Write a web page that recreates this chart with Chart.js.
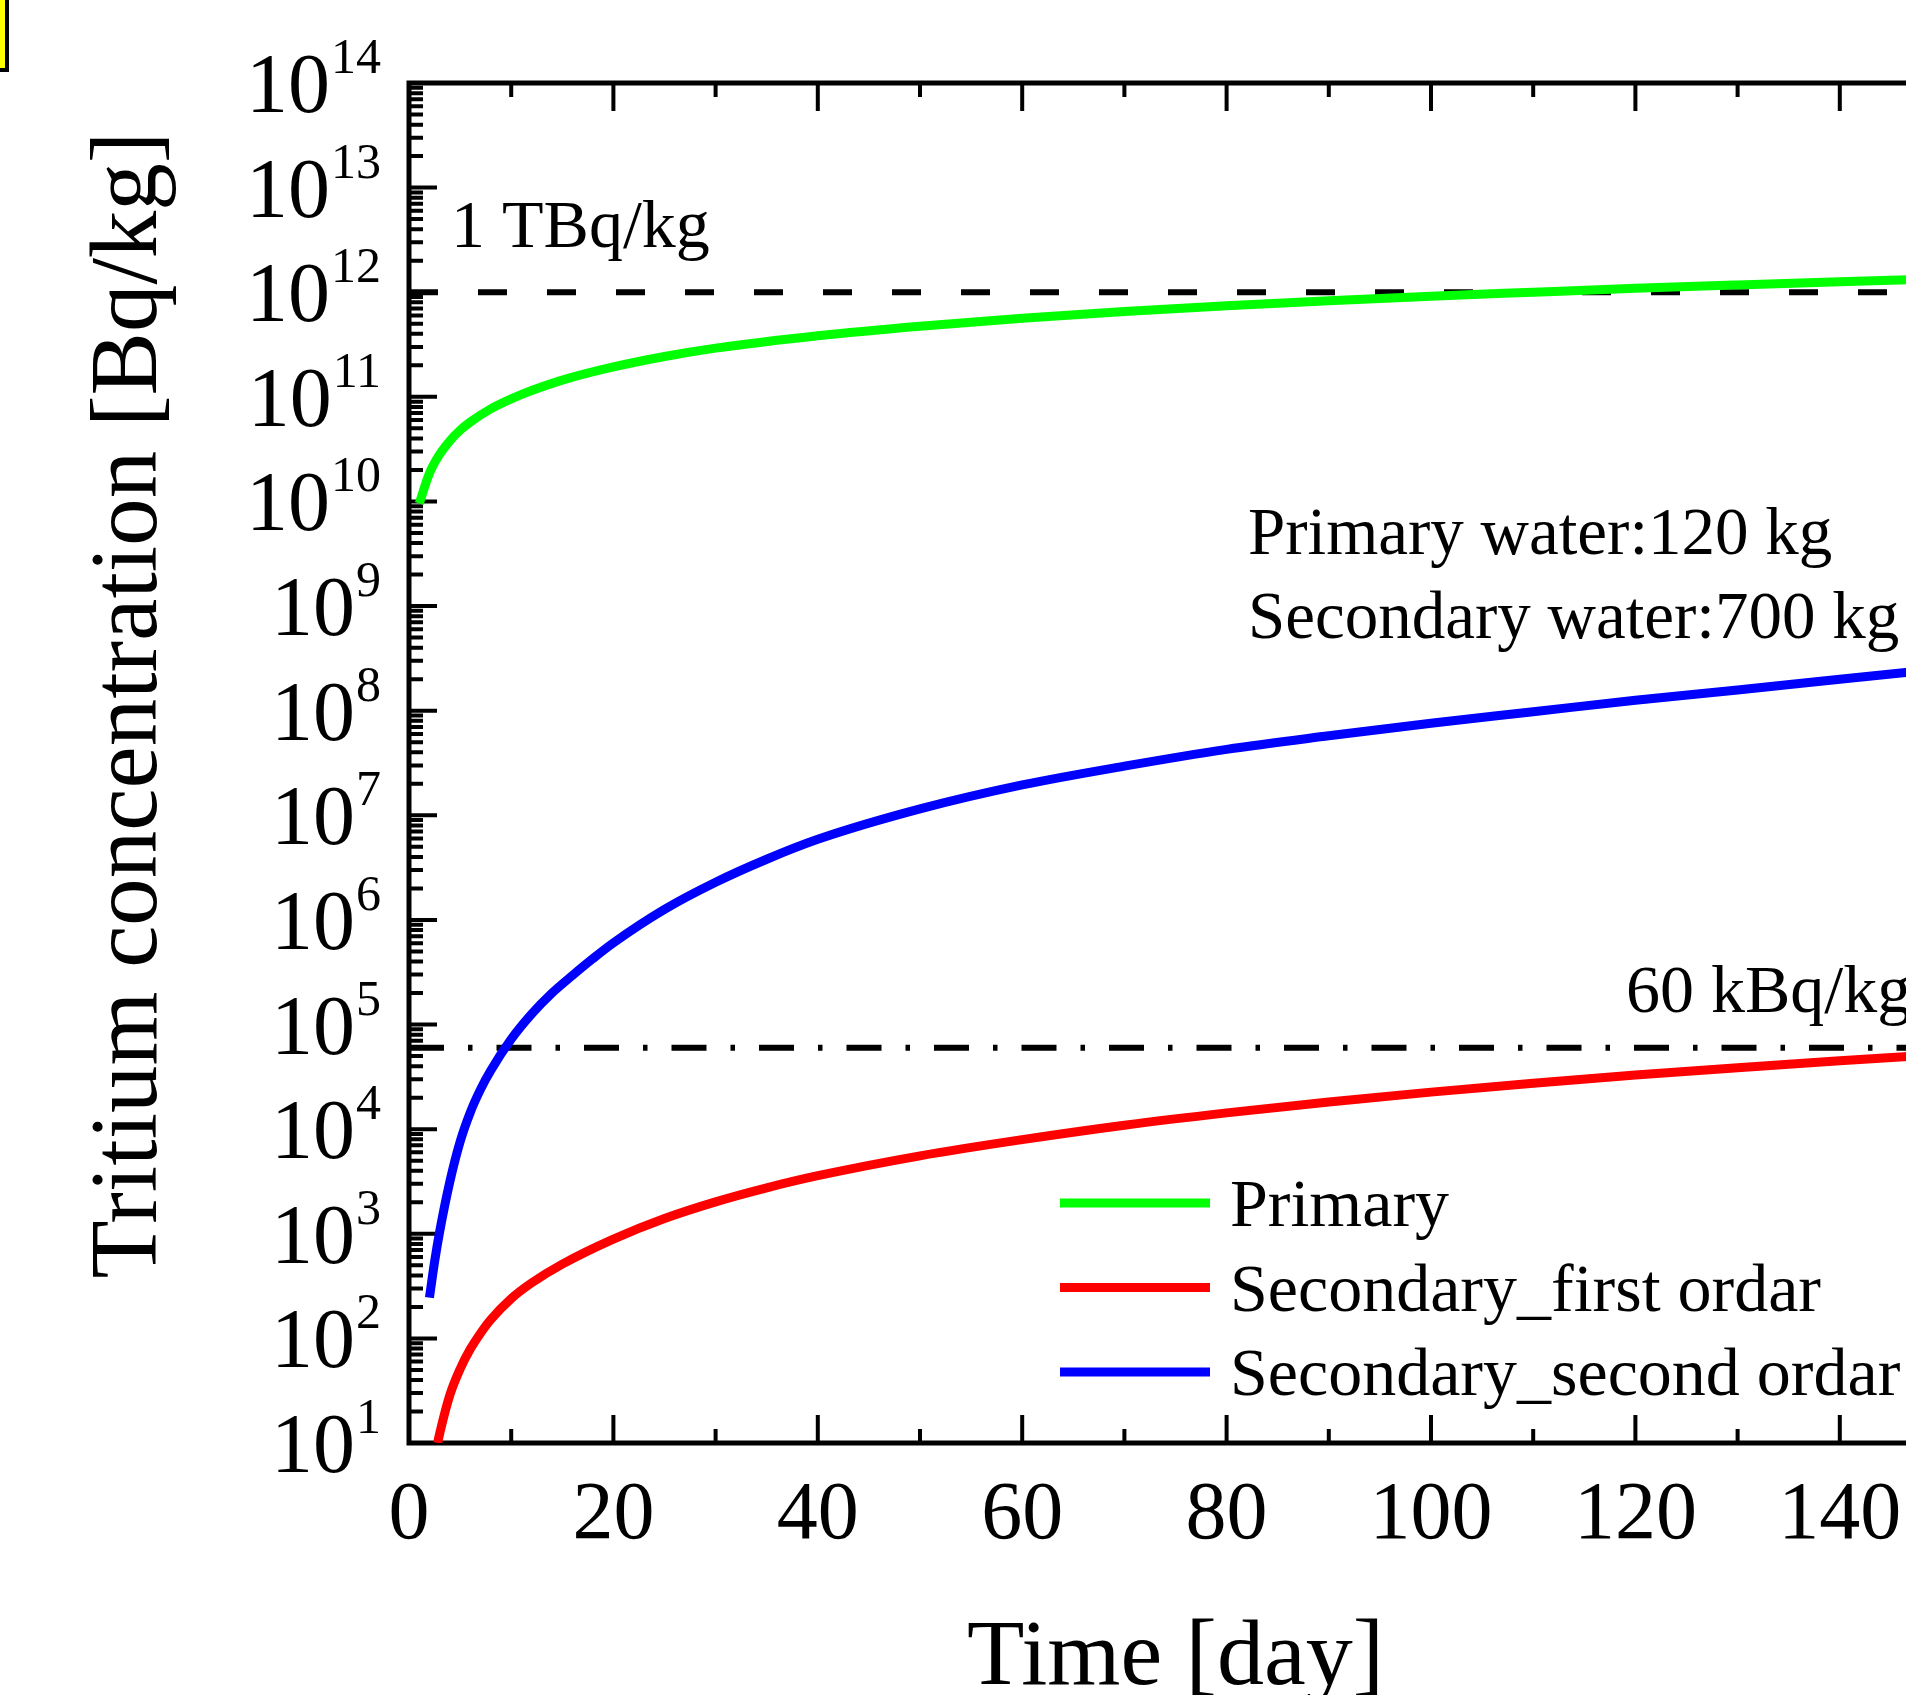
<!DOCTYPE html>
<html>
<head>
<meta charset="utf-8">
<script src="https://cdn.jsdelivr.net/npm/chart.js@4.4.1/dist/chart.umd.min.js"></script>
<style>
html, body { margin:0; padding:0; background:#fff; overflow:hidden; width:1906px; height:1695px; }
#wrap { position:absolute; left:0; top:0; width:2000px; height:1695px; }
#tag { position:absolute; left:-100px; top:-10px; width:101px; height:74px; background:#ffff00; border:4px solid #000; }
</style>
</head>
<body>
<div id="wrap"><canvas id="c" width="2000" height="1695"></canvas></div>
<div id="tag"></div>
<script>
// ---- data ----
const primaryDays   = [1, 2, 3, 4, 5, 6, 8, 10, 12, 15, 20, 25, 30, 40, 50, 60, 70, 80, 90, 100, 110, 120, 130, 140, 150];
const primaryValues = [9.55e9, 1.86e10, 2.82e10, 3.8e10, 4.79e10, 5.75e10, 7.67e10, 9.55e10, 1.148e11, 1.445e11, 1.93e11, 2.43e11, 2.92e11, 3.84e11, 4.74e11, 5.64e11, 6.53e11, 7.41e11, 8.28e11, 9.16e11, 1.0e12, 1.09e12, 1.175e12, 1.26e12, 1.345e12];

const firstOrderDays   = [2.8, 3, 4, 5, 6, 7, 8, 10, 12, 15, 20, 25, 30, 35, 40, 50, 60, 70, 80, 90, 100, 110, 120, 130, 140, 150];
const firstOrderValues = [10, 12.3, 28.8, 51, 79, 112, 151, 240, 339, 513, 890, 1400, 2020, 2750, 3590, 5560, 7940, 1.09e4, 1.43e4, 1.82e4, 2.26e4, 2.75e4, 3.29e4, 3.87e4, 4.51e4, 5.19e4];

const secondOrderDays   = [2, 2.5, 3, 4, 5, 6, 7, 8, 10, 12, 14, 16, 18, 20, 25, 30, 35, 40, 50, 60, 70, 80, 90, 100, 110, 120, 130, 140, 150];
const secondOrderValues = [245, 537, 1047, 3160, 7590, 1.45e4, 2.4e4, 3.63e4, 7.24e4, 1.26e5, 2.0e5, 2.95e5, 4.27e5, 6.03e5, 1.26e6, 2.29e6, 3.8e6, 5.89e6, 1.15e7, 1.95e7, 2.95e7, 4.27e7, 5.75e7, 7.59e7, 9.77e7, 1.26e8, 1.58e8, 2.0e8, 2.51e8];

const seriesLabels = ['Primary', 'Secondary_first ordar', 'Secondary_second ordar'];
const xMajorTicks = [0, 20, 40, 60, 80, 100, 120, 140];
const xMinorTicks = [10, 30, 50, 70, 90, 110, 130, 150];
const yDecades = [1, 2, 3, 4, 5, 6, 7, 8, 9, 10, 11, 12, 13, 14];
const limitValues = [1e12, 6e4];
const limitLabels = ['1 TBq/kg', '60 kBq/kg'];
const noteLines = ['Primary water:120 kg', 'Secondary water:700 kg'];
const xTitle = 'Time [day]';
const yTitle = 'Tritium concentration [Bq/kg]';

// ---- build ----
const pts = (d, v) => d.map((x, i) => ({ x, y: v[i] }));
const FONT = "'Liberation Serif','Times New Roman',serif";

const decor = {
  id: 'decor',
  beforeDatasetsDraw(chart) {
    const { ctx, chartArea: a, scales: { x, y } } = chart;
    ctx.save();
    ctx.strokeStyle = '#000';
    ctx.lineCap = 'butt';
    ctx.lineWidth = 6;
    let py = y.getPixelForValue(limitValues[0]);
    ctx.setLineDash([29, 40]);
    ctx.beginPath(); ctx.moveTo(a.left, py); ctx.lineTo(a.right, py); ctx.stroke();
    py = y.getPixelForValue(limitValues[1]);
    ctx.setLineDash([35, 24, 4.5, 24]);
    ctx.beginPath(); ctx.moveTo(a.left, py); ctx.lineTo(a.right, py); ctx.stroke();
    ctx.setLineDash([]);
    ctx.lineWidth = 5;
    ctx.strokeRect(a.left, a.top, a.right - a.left, a.bottom - a.top);
    ctx.lineWidth = 4;
    const xt = (v, len) => {
      const px = x.getPixelForValue(v);
      ctx.beginPath();
      ctx.moveTo(px, a.bottom); ctx.lineTo(px, a.bottom - len);
      ctx.moveTo(px, a.top); ctx.lineTo(px, a.top + len);
      ctx.stroke();
    };
    xMajorTicks.forEach(v => xt(v, 28));
    xMinorTicks.forEach(v => xt(v, 14));
    const yt = (v, len) => {
      const p = y.getPixelForValue(v);
      ctx.beginPath();
      ctx.moveTo(a.left, p); ctx.lineTo(a.left + len, p);
      ctx.moveTo(a.right, p); ctx.lineTo(a.right - len, p);
      ctx.stroke();
    };
    yDecades.forEach(e => {
      yt(Math.pow(10, e), 28);
      if (e < yDecades[yDecades.length - 1]) {
        for (let m = 2; m <= 9; m++) yt(m * Math.pow(10, e), 14);
      }
    });
    ctx.restore();
  },
  afterDraw(chart) {
    const { ctx, chartArea: a, scales: { x, y } } = chart;
    ctx.save();
    ctx.fillStyle = '#000';
    ctx.textBaseline = 'alphabetic';
    const rightEdge = a.left - 28;
    yDecades.forEach(e => {
      const p = y.getPixelForValue(Math.pow(10, e));
      ctx.textAlign = 'right';
      ctx.font = `50px ${FONT}`;
      const ew = ctx.measureText(String(e)).width;
      ctx.fillText(String(e), rightEdge, p - 10);
      ctx.font = `84px ${FONT}`;
      ctx.fillText('10', rightEdge - ew - 1, p + 29);
    });
    ctx.textAlign = 'center';
    ctx.font = `82px ${FONT}`;
    xMajorTicks.forEach(v => ctx.fillText(String(v), x.getPixelForValue(v), a.bottom + 95));
    ctx.font = `94px ${FONT}`;
    ctx.fillText(xTitle, (a.left + a.right) / 2, 1684);
    ctx.save();
    ctx.translate(156, 705);
    ctx.rotate(-Math.PI / 2);
    ctx.font = `95px ${FONT}`;
    ctx.fillText(yTitle, 0, 0);
    ctx.restore();
    ctx.textAlign = 'left';
    ctx.font = `68px ${FONT}`;
    ctx.fillText(limitLabels[0], 451, 247);
    ctx.fillText(limitLabels[1], 1626, 1012);
    ctx.font = `67px ${FONT}`;
    ctx.fillText(noteLines[0], 1248, 554);
    ctx.fillText(noteLines[1], 1248, 638);
    ctx.font = `68px ${FONT}`;
    chart.data.datasets.forEach((ds, i) => {
      const ly = 1203 + i * 84.5;
      ctx.strokeStyle = ds.borderColor;
      ctx.lineWidth = 9;
      ctx.beginPath(); ctx.moveTo(1060, ly); ctx.lineTo(1210, ly); ctx.stroke();
      ctx.fillText(ds.label, 1230, ly + 23);
    });
    ctx.restore();
  }
};

Chart.defaults.font.family = FONT;
const lineStyle = { borderWidth: 9, fill: false, pointRadius: 0, pointHoverRadius: 0, cubicInterpolationMode: 'monotone', borderCapStyle: 'butt' };
new Chart(document.getElementById('c'), {
  type: 'line',
  data: {
    datasets: [
      Object.assign({ label: seriesLabels[0], data: pts(primaryDays, primaryValues), borderColor: '#00ff00' }, lineStyle),
      Object.assign({ label: seriesLabels[1], data: pts(firstOrderDays, firstOrderValues), borderColor: '#ff0000' }, lineStyle),
      Object.assign({ label: seriesLabels[2], data: pts(secondOrderDays, secondOrderValues), borderColor: '#0000ff' }, lineStyle)
    ]
  },
  options: {
    responsive: false,
    devicePixelRatio: 1,
    animation: false,
    layout: { padding: { left: 409, top: 83, right: 58, bottom: 252 } },
    scales: {
      x: { type: 'linear', min: 0, max: 150, display: false },
      y: { type: 'logarithmic', min: 10, max: 1e14, display: false }
    },
    plugins: { legend: { display: false }, tooltip: { enabled: false } }
  },
  plugins: [decor]
});
</script>
</body>
</html>
